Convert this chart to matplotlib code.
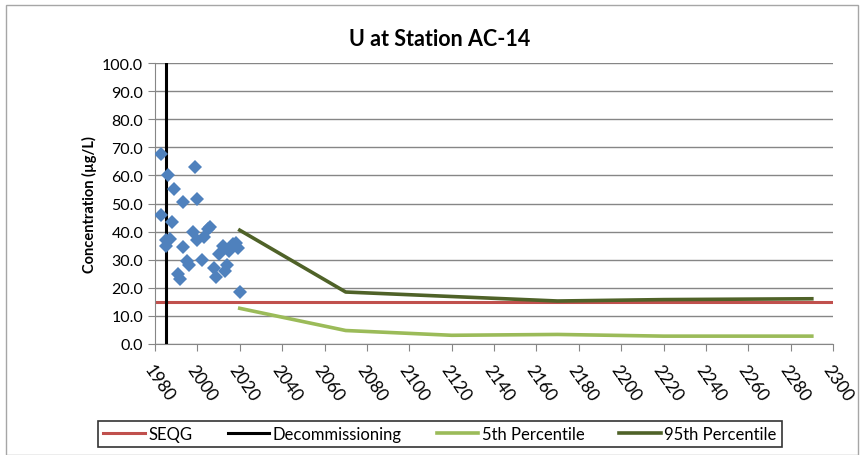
import matplotlib.pyplot as plt
import matplotlib.transforms as mtransforms
from matplotlib.patches import Rectangle

plt.rcParams['font.family'] = ['Lato', 'DejaVu Sans']

# Målte verdier (år, konsentrasjon)
obs_year = [1983, 1986, 1989, 1993, 1999, 2000, 1983, 1988, 1987, 1985, 1985,
            1993, 1991, 1992, 1995, 1996, 1998, 2000, 2002, 2003, 2005, 2006,
            2008, 2009, 2010, 2012, 2013, 2014, 2015, 2017, 2018, 2019, 2020]
obs_conc = [67.5, 60.0, 55.0, 50.5, 63.0, 51.5, 46.0, 43.5, 37.5, 35.0, 37.0,
            34.5, 25.0, 23.0, 29.5, 28.0, 40.0, 37.0, 30.0, 38.0, 41.0, 41.5,
            27.0, 24.0, 32.0, 35.0, 26.0, 28.0, 33.0, 35.5, 36.0, 34.0, 18.5]

# Prognoser
pred_year = [2020, 2070, 2120, 2170, 2220, 2290]
p5 = [12.7, 4.8, 3.1, 3.4, 2.8, 2.8]
p95 = [40.5, 18.5, 16.9, 15.3, 15.8, 16.1]

seqg = 15.0
decom_year = 1985

x_ticks = list(range(1980, 2301, 20))
y_ticks = [i * 10 for i in range(11)]

fig = plt.figure(figsize=(8.64, 4.56), dpi=100)
ax = fig.add_axes([155 / 864, 1 - 345 / 456, 678 / 864, 281 / 456])

ax.axhline(seqg, color='#C0504D', lw=2.2, label='SEQG', zorder=2)
ax.plot([decom_year, decom_year], [0, 100], color='black', lw=2.2,
        label='Decommissioning', zorder=3)
ax.plot(pred_year, p5, color='#9BBB59', lw=2.6, label='5th Percentile', zorder=3)
ax.plot(pred_year, p95, color='#4F6228', lw=2.6, label='95th Percentile', zorder=3)
ax.plot(obs_year, obs_conc, 'D', color='#4F81BD', ms=7.5, mew=0, zorder=4)

ax.set_xlim(1980, 2300)
ax.set_ylim(0, 100)
ax.set_xticks(x_ticks)
ax.set_yticks(y_ticks)
ax.set_yticklabels([f'{v:.1f}' for v in y_ticks], fontsize=11.5)
ax.set_xticklabels([str(v) for v in x_ticks], fontsize=12.5, rotation=-55,
                   rotation_mode='anchor', ha='left', va='center')
ax.tick_params(axis='x', length=5, color='#868686', pad=11)
ax.tick_params(axis='y', length=5, color='#868686')
shift = mtransforms.ScaledTranslation(-7 / 100, 0, fig.dpi_scale_trans)
for lbl in ax.get_xticklabels():
    lbl.set_transform(lbl.get_transform() + shift)
ax.grid(axis='y', color='#868686', lw=1)
ax.set_axisbelow(True)
for s in ['top', 'right']:
    ax.spines[s].set_visible(False)
for s in ['left', 'bottom']:
    ax.spines[s].set_color('#868686')

fig.text(440 / 864, 1 - 40 / 456, 'U at Station AC-14', fontsize=15.5,
         fontweight='bold', ha='center', va='center')
ax.set_ylabel('Concentration (µg/L)', fontsize=10.5, fontweight='bold')

handles = [h for h in ax.get_lines()[:4]]
leg = fig.legend(handles, [h.get_label() for h in handles], ncol=4,
                 loc='center', bbox_to_anchor=(440 / 864, 1 - 435 / 456),
                 fontsize=12, frameon=True, fancybox=False, edgecolor='black',
                 handlelength=2.5, handletextpad=0.2, columnspacing=2.1,
                 borderpad=0.3)
leg.get_frame().set_linewidth(1.2)

fig.patches.append(Rectangle((6 / 864, 0), 852 / 864, 1 - 6 / 456, fill=False,
                             edgecolor='#A6A6A6', lw=1, transform=fig.transFigure))

fig.savefig('out.png', dpi=100)
